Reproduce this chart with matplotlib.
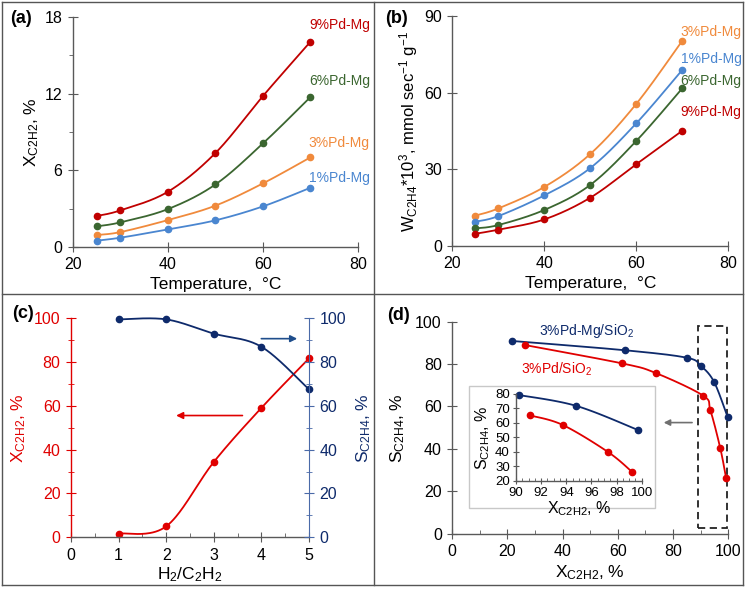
import matplotlib
matplotlib.use('Agg')
import matplotlib.pyplot as plt
import numpy as np
from matplotlib.patches import Rectangle
from matplotlib.lines import Line2D

plt.rcParams['font.family'] = ['Liberation Sans', 'DejaVu Sans']
plt.rcParams['mathtext.default'] = 'regular'
plt.rcParams['font.size'] = 10.5

# ---- data ----
temp = [25, 30, 40, 50, 60, 70]
# (a) acetylene conversion, %
xa_9 = [2.43, 2.87, 4.33, 7.36, 11.82, 16.07]
xa_6 = [1.62, 1.93, 2.97, 4.90, 8.11, 11.74]
xa_3 = [0.94, 1.17, 2.11, 3.24, 4.98, 7.02]
xa_1 = [0.50, 0.73, 1.38, 2.09, 3.18, 4.64]
# (b) ethylene rate *1e3
wb_3 = [11.9, 14.7, 23.1, 36.0, 55.6, 80.3]
wb_1 = [9.5, 11.7, 19.8, 30.5, 48.0, 68.9]
wb_6 = [6.9, 8.2, 14.1, 23.9, 41.1, 61.7]
wb_9 = [4.8, 6.4, 10.4, 18.9, 32.0, 45.1]
# (c) H2/C2H2 ratio
ratio = [1, 2, 3, 4, 5]
xc = [1.7, 5.0, 34.4, 59.1, 81.7]
sc = [99.5, 99.5, 93.0, 87.0, 67.5]
# (d) selectivity vs conversion
xd_mg = [21.6, 62.7, 84.9, 90.1, 94.9, 99.8]
sd_mg = [90.9, 86.5, 83.0, 79.1, 71.5, 54.9]
xd_pd = [26.2, 61.6, 73.7, 90.9, 93.5, 97.1, 99.2]
sd_pd = [89.0, 80.3, 75.8, 65.1, 58.3, 40.4, 26.4]
# inset
xi_mg = [90.2, 94.8, 99.7]
si_mg = [79.0, 71.5, 55.0]
xi_pd = [91.1, 93.7, 97.3, 99.2]
si_pd = [65.0, 58.5, 40.0, 26.5]

c_red = '#C00000'
c_red2 = '#E00000'
c_green = '#3B6630'
c_orange = '#F08A3C'
c_blue = '#4A86D0'
c_navy = '#0E2A6B'
c_axis = '#595959'


def smooth(x, y, xlim, ylim, n=40):
    # Excel-style smoothed line (bezier through the points)
    px = (np.asarray(x, float) - xlim[0]) / (xlim[1] - xlim[0])
    py = (np.asarray(y, float) - ylim[0]) / (ylim[1] - ylim[0])
    P = np.column_stack([px, py])
    P = np.vstack([P[0], P, P[-1]])
    out = []
    t = np.linspace(0, 1, n)[:, None]
    for i in range(1, len(P) - 2):
        p0, p1, p2, p3 = P[i - 1], P[i], P[i + 1], P[i + 2]
        c1 = p1 + (p2 - p0) / 6
        c2 = p2 - (p3 - p1) / 6
        seg = ((1 - t) ** 3) * p1 + 3 * ((1 - t) ** 2) * t * c1 + 3 * (1 - t) * t ** 2 * c2 + t ** 3 * p2
        out.append(seg)
    S = np.vstack(out)
    return S[:, 0] * (xlim[1] - xlim[0]) + xlim[0], S[:, 1] * (ylim[1] - ylim[0]) + ylim[0]


def series(ax, x, y, color, xlim, ylim, ms=4.5, lw=1.3):
    sx, sy = smooth(x, y, xlim, ylim)
    ax.plot(sx, sy, color=color, lw=lw, clip_on=False)
    ax.plot(x, y, 'o', color=color, ms=ms, clip_on=False)


def style(ax, color=c_axis):
    for s in ['top', 'right']:
        ax.spines[s].set_visible(False)
    for s in ['left', 'bottom']:
        ax.spines[s].set_color(color)
        ax.spines[s].set_linewidth(1.0)
    ax.tick_params(which='major', direction='inout', length=7, color=color, labelsize=11.5, pad=4)
    ax.tick_params(which='minor', direction='out', length=3, color=color)


fig = plt.figure(figsize=(7.5, 5.89), dpi=100)

# ---- (a) ----
xlim_a, ylim_a = (20, 80), (0, 18)
axa = fig.add_axes([0.0973, 0.5806, 0.38, 0.3905])
style(axa)
axa.set_xlim(*xlim_a)
axa.set_ylim(*ylim_a)
axa.set_xticks([20, 40, 60, 80])
axa.set_yticks([0, 6, 12, 18])
axa.set_yticks([3, 9, 15], minor=True)
for yv, c in [(xa_9, c_red), (xa_6, c_green), (xa_3, c_orange), (xa_1, c_blue)]:
    series(axa, temp, yv, c, xlim_a, ylim_a)
for txt, yy, c in [('9%Pd-Mg', 17.37, c_red), ('6%Pd-Mg', 13.0, c_green),
                   ('3%Pd-Mg', 8.14, c_orange), ('1%Pd-Mg', 5.4, c_blue)]:
    axa.text(82.5, yy, txt, color=c, ha='right', va='center', fontsize=10, clip_on=False)
axa.set_xlabel('Temperature,  \u00b0C', fontsize=12.5, labelpad=3)
axa.set_ylabel('X$_{C2H2}$, %', fontsize=12.5, labelpad=3)

# ---- (b) ----
xlim_b, ylim_b = (20, 80), (0, 90)
axb = fig.add_axes([0.603, 0.5823, 0.368, 0.3905])
style(axb)
axb.set_xlim(*xlim_b)
axb.set_ylim(*ylim_b)
axb.set_xticks([20, 40, 60, 80])
axb.set_yticks([0, 30, 60, 90])
for yv, c in [(wb_3, c_orange), (wb_1, c_blue), (wb_6, c_green), (wb_9, c_red)]:
    series(axb, temp, yv, c, xlim_b, ylim_b)
for txt, yy, c in [('3%Pd-Mg', 83.8, c_orange), ('1%Pd-Mg', 73.2, c_blue),
                   ('6%Pd-Mg', 64.6, c_green), ('9%Pd-Mg', 52.5, c_red)]:
    axb.text(82.9, yy, txt, color=c, ha='right', va='center', fontsize=10, clip_on=False)
axb.set_xlabel('Temperature,  \u00b0C', fontsize=12.5, labelpad=3)
axb.set_ylabel('W$_{C2H4}$*10$^{3}$, mmol sec$^{-1}$ g$^{-1}$', fontsize=12, labelpad=3)

# ---- (c) ----
xlim_c, ylim_c = (0, 5), (0, 100)
axc = fig.add_axes([0.0947, 0.0878, 0.3173, 0.3718])
style(axc)
axc.spines['left'].set_color(c_red2)
axc.set_xlim(*xlim_c)
axc.set_ylim(*ylim_c)
axc.set_xticks(range(6))
axc.set_xticks(np.arange(0.5, 5, 0.5), minor=True)
axc.tick_params(axis='x', which='minor', direction='in', length=3)
axc.set_yticks(range(0, 101, 20))
axc.set_yticks(range(10, 100, 20), minor=True)
axc.tick_params(axis='y', which='both', colors=c_red2, labelcolor=c_red2)
axc.tick_params(axis='y', which='minor', direction='inout', length=5)
axc2 = axc.twinx()
axc2.set_ylim(*ylim_c)
for s in ['top', 'left', 'bottom']:
    axc2.spines[s].set_visible(False)
axc2.spines['right'].set_color('#4A6AA8')
axc2.set_yticks(range(0, 101, 20))
axc2.set_yticks(range(10, 100, 20), minor=True)
axc2.tick_params(axis='y', which='major', direction='inout', length=7, color='#4A6AA8', labelcolor=c_navy, labelsize=11.5, pad=4)
axc2.tick_params(axis='y', which='minor', direction='inout', length=5, color='#4A6AA8')
series(axc, ratio, xc, c_red2, xlim_c, ylim_c)
series(axc2, ratio, sc, c_navy, xlim_c, ylim_c)
axc.annotate('', xy=(2.15, 55.6), xytext=(3.66, 55.6),
             arrowprops=dict(arrowstyle='-|>', color=c_red2, lw=1.2, mutation_scale=10))
axc.annotate('', xy=(4.81, 90.7), xytext=(3.94, 90.7),
             arrowprops=dict(arrowstyle='-|>', color='#1F4E8C', lw=1.2, mutation_scale=10))
axc.set_xlabel('H$_2$/C$_2$H$_2$', fontsize=12.5, labelpad=2)
axc.set_ylabel('X$_{C2H2}$, %', fontsize=12.5, color=c_red2, labelpad=4)
axc2.set_ylabel('S$_{C2H4}$, %', fontsize=12.5, color=c_navy, labelpad=6)

# ---- (d) ----
xlim_d, ylim_d = (0, 100), (0, 100)
axd = fig.add_axes([0.603, 0.0939, 0.368, 0.36])
style(axd)
axd.set_xlim(*xlim_d)
axd.set_ylim(*ylim_d)
axd.set_xticks(range(0, 101, 20))
axd.set_xticks(range(10, 100, 20), minor=True)
axd.set_yticks(range(0, 101, 20))
axd.tick_params(axis='x', which='minor', direction='in', length=3)
series(axd, xd_mg, sd_mg, c_navy, xlim_d, ylim_d)
series(axd, xd_pd, sd_pd, c_red2, xlim_d, ylim_d)
axd.text(48.7, 95.6, '3%Pd-Mg/SiO$_2$', color=c_navy, ha='center', va='center', fontsize=10)
axd.text(37.8, 77.7, '3%Pd/SiO$_2$', color=c_red2, ha='center', va='center', fontsize=10)
axd.add_patch(Rectangle((89.1, 2.8), 10.3, 95.3, fill=False, ls=(0, (4, 2.5)), lw=1.3,
                        ec='#222222', clip_on=False))
axd.annotate('', xy=(75.6, 52.4), xytext=(87.9, 52.4),
             arrowprops=dict(arrowstyle='-|>', color='#707070', lw=1.2, mutation_scale=9))
axd.set_xlabel('X$_{C2H2}$, %', fontsize=12.5, labelpad=3)
axd.set_ylabel('S$_{C2H4}$, %', fontsize=12.5, labelpad=6)

# inset frame
fig.add_artist(Rectangle((0.6253, 0.137), 0.248, 0.2082, transform=fig.transFigure,
                         fc='white', ec='#C8C8C8', lw=1.0, zorder=3))
xlim_i, ylim_i = (90, 100), (20, 80)
axi = fig.add_axes([0.688, 0.1834, 0.1676, 0.1485], zorder=4)
axi.patch.set_alpha(0)
style(axi)
axi.set_xlim(*xlim_i)
axi.set_ylim(*ylim_i)
axi.set_xticks(range(90, 101, 2))
axi.set_xticks(np.arange(90.5, 100, 0.5), minor=True)
axi.set_yticks(range(20, 81, 10))
axi.tick_params(which='major', labelsize=9.5, length=5, pad=2)
axi.tick_params(axis='x', which='minor', direction='in', length=2.5)
series(axi, xi_mg, si_mg, c_navy, xlim_i, ylim_i, ms=4.5)
series(axi, xi_pd, si_pd, c_red2, xlim_i, ylim_i, ms=4.5)
axi.set_xlabel('X$_{C2H2}$, %', fontsize=11.5, labelpad=0)
axi.set_ylabel('S$_{C2H4}$, %', fontsize=11.5, labelpad=2)

# panel labels
for txt, x, y in [('(a)', 0.013, 0.968), ('(b)', 0.513, 0.968),
                  ('(c)', 0.016, 0.468), ('(d)', 0.516, 0.465)]:
    fig.text(x, y, txt, fontsize=13, fontweight='bold', va='center')

# panel borders
bc = '#555555'
for xs, ys in [([0.003, 0.003], [0.006, 0.997]), ([0.991, 0.991], [0.006, 0.997]),
               ([0.003, 0.991], [0.997, 0.997]), ([0.003, 0.991], [0.006, 0.006]),
               ([0.499, 0.499], [0.006, 0.997]), ([0.003, 0.991], [0.501, 0.501])]:
    fig.add_artist(Line2D(xs, ys, transform=fig.transFigure, color=bc, lw=1.0))

fig.savefig('out.png', dpi=100)
